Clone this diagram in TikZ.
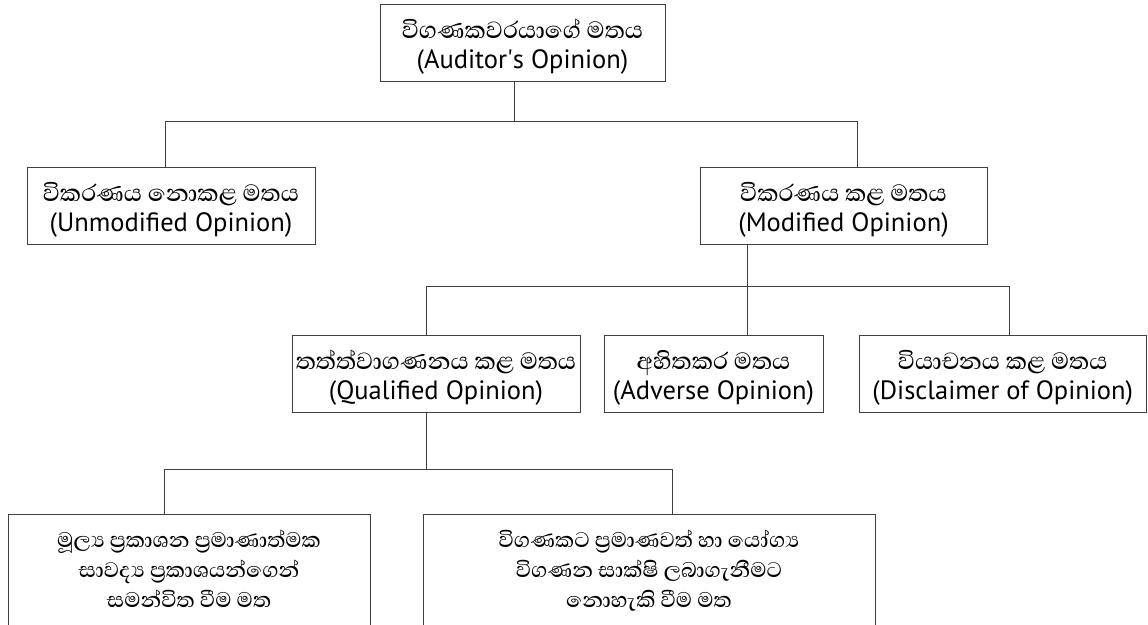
\documentclass[tikz,border=0pt]{standalone}
\usepackage{fontspec}
\setmainfont{PT Sans}
\newfontfamily\latf{PT Sans}
\newfontfamily\sinf[Script=Sinhala]{Abhaya Libre Medium}
\newcommand{\zj}{^^^^200d}
\tikzset{
  box/.style={draw=black!75, line width=1pt, inner sep=0pt, outer sep=0pt, align=center,
    font=\fontsize{24}{30}\selectfont, text height=64pt, text depth=13pt},
  tallbox/.style={box, font=\fontsize{24}{30}\selectfont, text height=93pt, text depth=30pt},
  conn/.style={draw=black!75, line width=1pt},
}
\newcommand{\si}[1]{{\sinf\fontsize{30}{30}\selectfont #1}}
\newcommand{\sj}[1]{{\sinf\fontsize{27}{30}\selectfont #1}}
\newcommand{\la}[1]{{\latf\fontsize{26.5}{30}\selectfont #1}}
\begin{document}
\begin{tikzpicture}[x=1pt,y=-1pt]
\useasboundingbox (0,0) rectangle (1148,624);
\node[box, minimum width=285] (top) at (522.5,42.5)
  {\si{විගණකවරයාගේ මතය}\\\la{(Auditor\textquotesingle s Opinion)}};
\node[box, minimum width=288] (unmod) at (171,206)
  {\si{විකරණය නොකළ මතය}\\\la{(Unmodified Opinion)}};
\node[box, minimum width=287] (mod) at (843.5,206)
  {\si{විකරණය කළ මතය}\\\la{(Modified Opinion)}};
\node[box, minimum width=288] (qual) at (436,373.5)
  {\si{තත්ත්වාගණනය කළ මතය}\\\la{(Qualified Opinion)}};
\node[box, minimum width=219] (adv) at (713.5,373.5)
  {\si{අහිතකර මතය}\\\la{(Adverse Opinion)}};
\node[box, minimum width=287.5] (disc) at (1002.75,373.5)
  {\si{වියාචනය කළ මතය}\\\la{(Disclaimer of Opinion)}};
\node[tallbox, minimum width=362] (bl) at (189,575.5)
  {\sj{මූල්\zj ය ප්\zj රකාශන ප්\zj රමාණාත්මක}\\\sj{සාවද්\zj ය ප්\zj රකාශයන්ගෙන්}\\\sj{සමන්විත වීම මත}};
\node[tallbox, minimum width=452] (br) at (649,575.5)
  {\sj{විගණකට ප්\zj රමාණවත් හා යෝග්\zj ය}\\\sj{විගණන සාක්ෂි ලබාගැනීමට}\\\sj{නොහැකි වීම මත}};
\coordinate (j1) at (514,121);
\coordinate (h1l) at (165,121);
\coordinate (h1r) at (857,121);
\coordinate (s2) at (747.5,286);
\coordinate (h2l) at (426,286);
\coordinate (h2r) at (1009,286);
\coordinate (s3) at (426,469);
\coordinate (h3l) at (164,469);
\coordinate (h3r) at (672,469);
\draw[conn] (top.south -| j1) -- (j1);
\draw[conn] (unmod.north -| h1l) -- (h1l) -- (h1r) -- (mod.north -| h1r);
\draw[conn] (mod.south -| s2) -- (adv.north -| s2);
\draw[conn] (qual.north -| h2l) -- (h2l) -- (h2r) -- (disc.north -| h2r);
\draw[conn] (qual.south -| s3) -- (s3);
\draw[conn] (bl.north -| h3l) -- (h3l) -- (h3r) -- (br.north -| h3r);
\end{tikzpicture}
\end{document}
